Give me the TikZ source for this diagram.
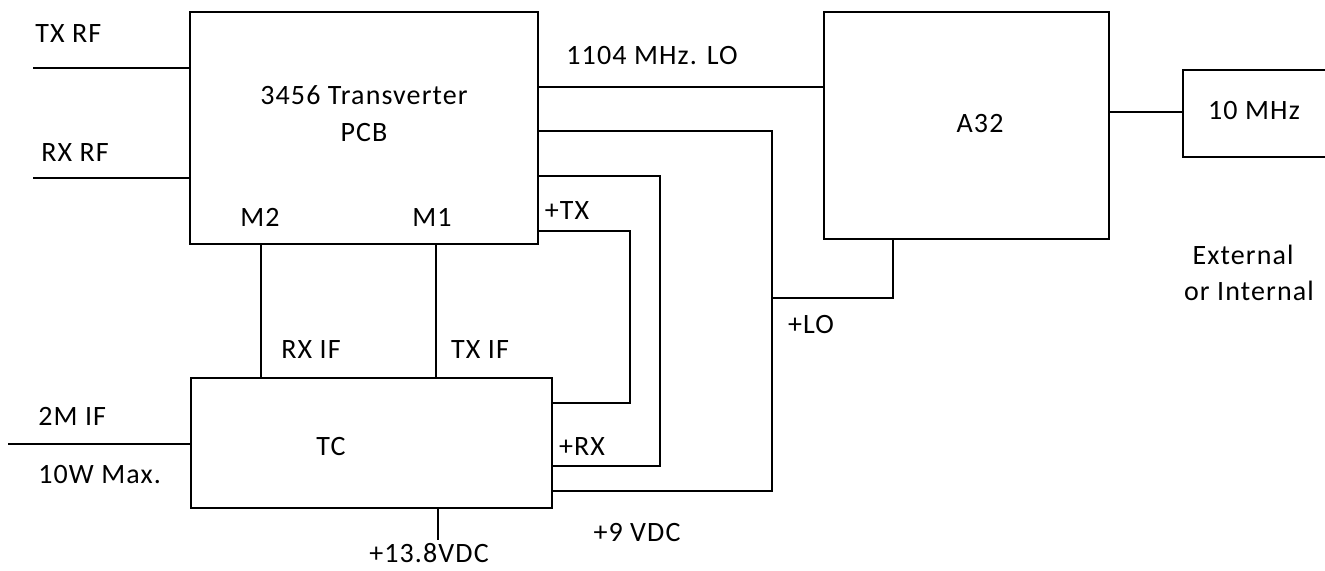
\documentclass[tikz,border=0pt]{standalone}
\usepackage{fontspec}
\setmainfont{Carlito}[LetterSpace=4]
\begin{document}
\begin{tikzpicture}[
    x=0.5pt, y=-0.5pt,
    font=\fontsize{14pt}{17pt}\selectfont,
    line width=1.3pt,
    blk/.style={draw, rectangle, inner sep=0pt},
    txt/.style={inner sep=0pt, anchor=base},
    txtw/.style={inner sep=0pt, anchor=base west},
]
    \clip (0,0) rectangle (1325,571);

    % Blocks
    \node[blk, minimum width=174pt, minimum height=116pt] (xv)  at (364,128) {};
    \node[blk, minimum width=180.5pt, minimum height=65pt] (tc) at (371.5,443) {};
    \node[blk, minimum width=142.5pt, minimum height=113.5pt] (a32) at (966.5,125.5) {};
    \node[blk, minimum width=108.5pt, minimum height=43.5pt] (osc) at (1291.5,113.5) {};

    % Block texts
    \node[txt] (xvname) at (364,105) {3456 Transverter};
    \node[txt] (xvpcb)  at (364,142) {PCB};
    \node[txt] (m2)     at (260,227) {M2};
    \node[txt] (m1)     at (432,227) {M1};
    \node[txt] (tcname) at (331,455) {TC};
    \node[txt] (a32name) at (980,133) {A32};
    \node[txt] (oscname) at (1254,120) {10 MHz};

    % Signal labels
    \node[txtw] (txrflbl) at (34,43) {TX RF};
    \node[txtw] (rxrflbl) at (40,162) {RX RF};
    \node[txtw] (iflbl)   at (37,425) {2M IF};
    \node[txtw] (pwrlbl)  at (37,483) {10W Max.};
    \node[txt] (rxiflbl)  at (311,358) {RX IF};
    \node[txt] (txiflbl)  at (480,358) {TX IF};
    \node[txt] (lolbl)    at (652,65) {1104 MHz. LO};
    \node[txt] (txlbl)    at (567,220) {+TX};
    \node[txt] (rxlbl)    at (582,455) {+RX};
    \node[txt] (plolbl)   at (811,333) {+LO};
    \node[txt] (ninelbl)  at (637,541) {+9 VDC};
    \node[txt] (vinlbl)   at (429,562) {+13.8VDC};
    \node[txt] (extlbl)   at (1243,265) {External};
    \node[txt] (intlbl)   at (1249,300) {or Internal};

    % Free ends and bus points
    \coordinate (txrf) at (33,68);
    \coordinate (rxrf) at (33,178);
    \coordinate (ifin) at (8,444);
    \coordinate (vin)  at (438,540);
    \coordinate (m2x)  at (261,0);
    \coordinate (m1x)  at (436,0);
    \coordinate (bus9) at (772,131);
    \coordinate (busrx) at (660,176);
    \coordinate (bustx) at (630,231);
    \coordinate (lotap) at (772,298);
    \coordinate (a32lo) at (893,0);

    % Left side connections
    \draw (txrf) -- (txrf -| xv.west);
    \draw (rxrf) -- (rxrf -| xv.west);
    \draw (ifin) -- (ifin -| tc.west);

    % IF links
    \draw (m2x |- xv.south) -- (m2x |- tc.north);
    \draw (m1x |- xv.south) -- (m1x |- tc.north);
    \draw (vin |- tc.south) -- (vin);

    % LO and reference
    \draw (xv.east |- 0,87) -- (a32.west |- 0,87);
    \draw (a32.east |- 0,112) -- (osc.west |- 0,112);

    % Supply loops
    \draw (xv.east |- bus9) -- (bus9) -- (bus9 |- 0,491) -- (tc.east |- 0,491);
    \draw (xv.east |- busrx) -- (busrx) -- (busrx |- 0,466) -- (tc.east |- 0,466);
    \draw (xv.east |- bustx) -- (bustx) -- (bustx |- 0,403) -- (tc.east |- 0,403);
    \draw (lotap) -- (lotap -| a32lo) -- (a32lo |- a32.south);
\end{tikzpicture}
\end{document}
